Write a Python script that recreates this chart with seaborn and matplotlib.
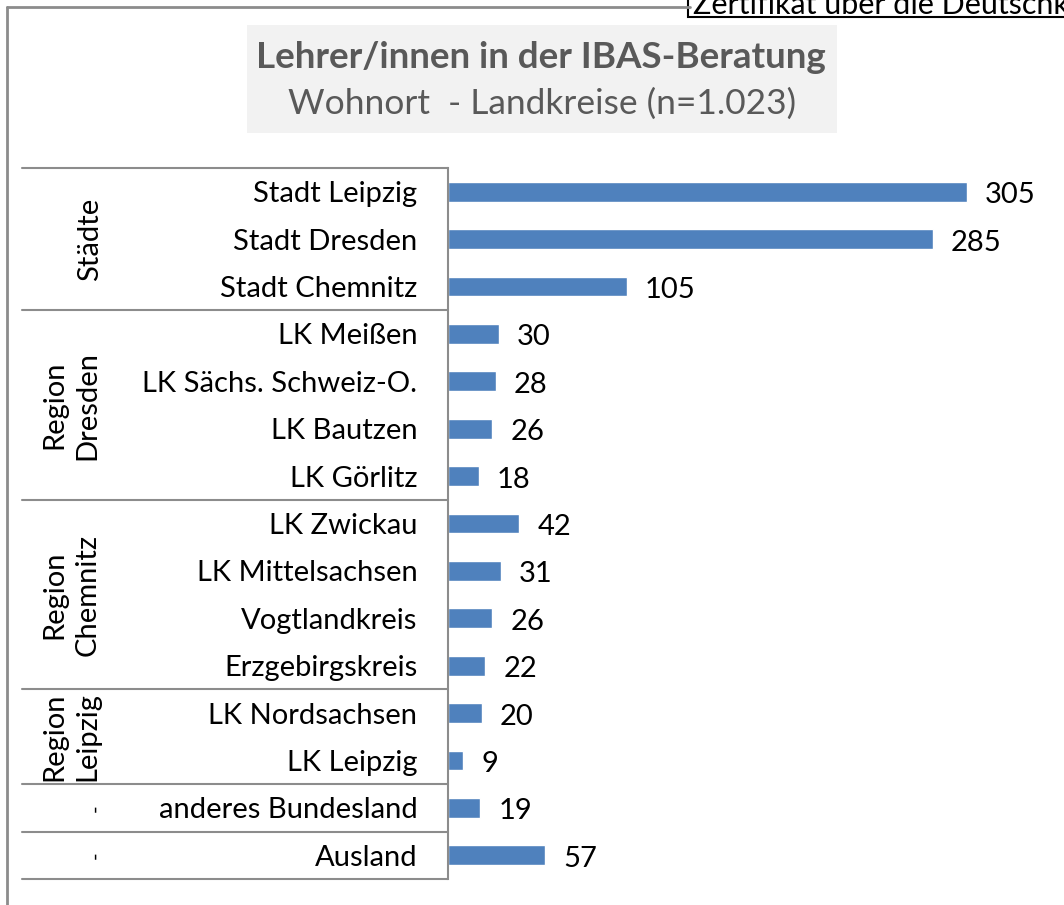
import matplotlib
matplotlib.use("Agg")
import matplotlib.pyplot as plt
import seaborn as sns
import pandas as pd
from matplotlib.patches import Rectangle
from matplotlib.lines import Line2D

categories = ["Stadt Leipzig", "Stadt Dresden", "Stadt Chemnitz",
              "LK Meißen", "LK Sächs. Schweiz-O.", "LK Bautzen", "LK Görlitz",
              "LK Zwickau", "LK Mittelsachsen", "Vogtlandkreis", "Erzgebirgskreis",
              "LK Nordsachsen", "LK Leipzig",
              "anderes Bundesland", "Ausland"]
values = [305, 285, 105, 30, 28, 26, 18, 42, 31, 26, 22, 20, 9, 19, 57]
group_labels = ["Städte", "Region\nDresden", "Region\nChemnitz", "Region\nLeipzig", "-", "-"]
group_sizes = [3, 4, 4, 2, 1, 1]

title = "Lehrer/innen in der IBAS-Beratung"
subtitle = "Wohnort  - Landkreise (n=1.023)"
corner_text = "Zertifikat über die Deutschkenntnisse"

sns.set_theme(style="white")
plt.rcParams['font.family'] = ['Lato', 'DejaVu Sans']

W, H = 1064, 905
fig = plt.figure(figsize=(W / 100, H / 100), dpi=100)

def fx(px):
    return px / W

def fy(py):
    return 1 - py / H

ax_left, ax_right = 448, 1064
ax_top, ax_bottom = 168, 879
ax = fig.add_axes([fx(ax_left), fy(ax_bottom), fx(ax_right - ax_left), (ax_bottom - ax_top) / H])

df = pd.DataFrame({"cat": categories, "val": values})
sns.barplot(data=df, x="val", y="cat", orient="h", color="#4f81bd", width=0.42,
            saturation=1, ax=ax)
px_per_unit = (967 - 448) / 305
ax.set_xlim(0, (ax_right - ax_left) / px_per_unit)
ax.set_ylim(len(categories) - 0.5, -0.5)
ax.set_xlabel("")
ax.set_ylabel("")
ax.set_xticks([])
ax.tick_params(axis="y", length=0, pad=22, labelsize=21, labelcolor="#000000")
for s in ["top", "right", "bottom"]:
    ax.spines[s].set_visible(False)
ax.spines["left"].set_color("#8c8c8c")
ax.spines["left"].set_linewidth(1.5)

for c in ax.containers:
    labs = ax.bar_label(c, padding=13, fontsize=21, color="#000000")
    for t in labs:
        t.xyann = (13, -2.5)

# group separators and labels
ytr = ax.get_yaxis_transform()
x0 = (22 - ax_left) / (ax_right - ax_left)
bounds = [-0.5]
acc = -0.5
for g in group_sizes:
    acc += g
    bounds.append(acc)
for b in bounds:
    ax.add_line(Line2D([x0, 0], [b, b], transform=ytr, color="#8c8c8c", lw=1.5, clip_on=False))
for i, lab in enumerate(group_labels):
    yc = (bounds[i] + bounds[i + 1]) / 2
    if lab == "-":
        xc_px, fs = 95, 15
    elif "\n" in lab:
        xc_px, fs = 71, 21
    else:
        xc_px, fs = 90, 21
    xc = (xc_px - ax_left) / (ax_right - ax_left)
    ax.text(xc, yc, lab, transform=ytr, rotation=90, ha="center", va="center",
            fontsize=fs, linespacing=1.3, color="#000000", multialignment="center")

# outer frame lines
fig.add_artist(Line2D([fx(7), fx(7)], [fy(7), 0], transform=fig.transFigure, color="#8c8c8c", lw=2))
fig.add_artist(Line2D([fx(7), fx(690)], [fy(7), fy(7)], transform=fig.transFigure, color="#8c8c8c", lw=2))

# title box
fig.add_artist(Rectangle((fx(247), fy(133)), fx(837 - 247), (133 - 25) / H,
                         transform=fig.transFigure, facecolor="#f2f2f2", edgecolor="none"))
fig.text(fx(541), fy(57), title, ha="center", va="center", fontsize=26.5, fontweight="bold", color="#595959")
fig.text(fx(542), fy(104), subtitle, ha="center", va="center", fontsize=25.5, color="#595959")

# corner box
fig.add_artist(Rectangle((fx(688), fy(17)), fx(400), 30 / H, transform=fig.transFigure,
                         facecolor="white", edgecolor="black", lw=1.5))
fig.text(fx(693), fy(14), corner_text, ha="left", va="baseline", fontsize=22, color="#000000")

fig.savefig("out.png", dpi=100)
